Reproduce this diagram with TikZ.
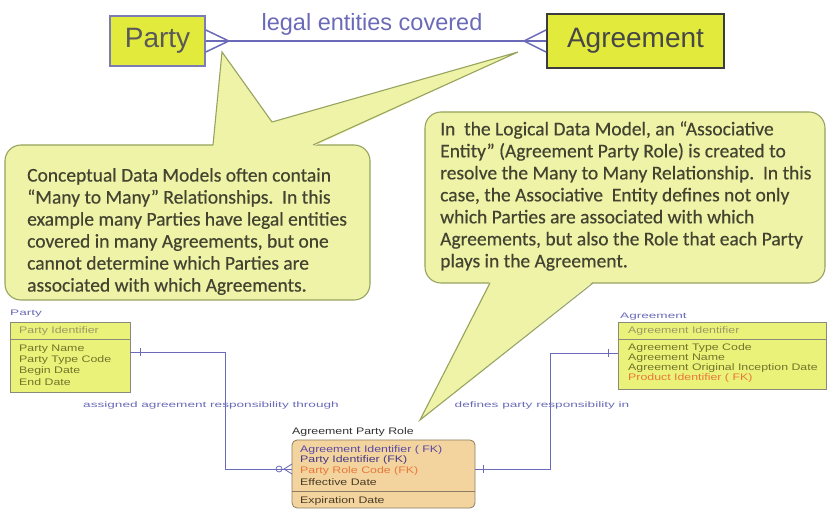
\documentclass[tikz,border=0pt]{standalone}
\usepackage{fontspec}
\setmainfont{Liberation Sans}
\newfontfamily\notefont[FakeBold=0.4]{Carlito}
\newfontfamily\erfont[FakeStretch=1.3]{Liberation Sans}
\newfontfamily\linkfont[FakeStretch=1.7]{Liberation Sans}
\definecolor{topfill}{HTML}{E2EA3C}
\definecolor{partyedge}{HTML}{7C7CB4}
\definecolor{agreeedge}{HTML}{3C3C3C}
\definecolor{relblue}{HTML}{6A6AB8}
\definecolor{notefill}{HTML}{EEF3A8}
\definecolor{noteedge}{HTML}{97A35E}
\definecolor{notetext}{HTML}{434330}
\definecolor{entfill}{HTML}{EBF27A}
\definecolor{entedge}{HTML}{8A8A7A}
\definecolor{enttext}{HTML}{74742A}
\definecolor{keytext}{HTML}{9A9A66}
\definecolor{fktext}{HTML}{E8783A}
\definecolor{rolefill}{HTML}{F3D49E}
\definecolor{roleedge}{HTML}{8C7C62}
\definecolor{purptext}{HTML}{5A4AA6}
\definecolor{darktext}{HTML}{4A3C24}
\tikzset{
  topbox/.style={draw, fill=topfill, line width=1.6pt, inner sep=0pt, font=\fontsize{28}{30}\selectfont},
  notebox/.style={draw=noteedge, fill=notefill, line width=1.1pt, rounded corners=16pt, inner sep=0pt},
  notetxt/.style={anchor=west, align=left, inner sep=0pt, text=notetext, font=\notefont\fontsize{19.5}{22}\selectfont},
  entbox/.style={draw=entedge, fill=entfill, line width=0.8pt, inner sep=0pt},
  attr/.style={anchor=west, inner sep=0pt, text=enttext, font=\erfont\fontsize{9.5}{10}\selectfont},
  erline/.style={draw=relblue, line width=0.8pt},
  linklbl/.style={inner sep=0pt, text=relblue, font=\linkfont\fontsize{8}{9}\selectfont}
}
\begin{document}
\begin{tikzpicture}[x=1pt, y=-1pt]
\useasboundingbox (0,0) rectangle (833,510);
\node[topbox, draw=partyedge, minimum width=95pt, minimum height=50pt, text=black!65] (party) at (157.5,41) {Party};
\node[topbox, draw=agreeedge, line width=2pt, minimum width=177pt, minimum height=54pt, text=black!72] (agreement) at (635.5,41) {Agreement};
\node[text=relblue, inner sep=0pt, font=\fontsize{23.5}{25}\selectfont] (rellbl) at (372,24) {legal entities covered};
\draw[erline, line width=1.5pt] (party.east) -- (agreement.west);
\draw[erline, line width=1.5pt] ([yshift=11pt]party.east) -- ([xshift=23pt]party.east) -- ([yshift=-11pt]party.east);
\draw[erline, line width=1.5pt] ([yshift=11pt]agreement.west) -- ([xshift=-22pt]agreement.west) -- ([yshift=-11pt]agreement.west);
\coordinate (partytip) at (222,52);
\coordinate (agreetip) at (518,52);
\node[notebox, minimum width=365pt, minimum height=155pt] (partynote) at (187.5,222.5) {};
\fill[notefill] (213,146.5) -- (partytip) -- (272,122) -- (agreetip) -- (313,146.5) -- cycle;
\draw[noteedge, line width=1.1pt] (213,145) -- (partytip) -- (272,122) -- (agreetip) -- (313,145);
\node[notetxt] (partytxt) at (27,231.5) {Conceptual Data Models often contain\\
“Many to Many” Relationships.\ \ In this\\
example many Parties have legal entities\\
covered in many Agreements, but one\\
cannot determine which Parties are\\
associated with which Agreements.};
\coordinate (roletip) at (420,420);
\node[notebox, minimum width=400pt, minimum height=171pt] (rolenote) at (625,197.5) {};
\fill[notefill] (490,281.5) -- (roletip) -- (593,281.5) -- cycle;
\draw[noteedge, line width=1.1pt] (490,283) -- (roletip) -- (593,283);
\node[notetxt] (roletxt) at (440,196) {In\ \ the Logical Data Model, an “Associative\\
Entity” (Agreement Party Role) is created to\\
resolve the Many to Many Relationship.\ \ In this\\
case, the Associative\ \ Entity defines not only\\
which Parties are associated with which\\
Agreements, but also the Role that each Party\\
plays in the Agreement.};
\node[linklbl, anchor=west] (partyname) at (10,314) {Party};
\node[entbox, minimum width=120pt, minimum height=70pt] (partyent) at (70,357) {};
\draw[entedge, line width=0.8pt] ([yshift=-18pt]partyent.north west) -- ([yshift=-18pt]partyent.north east);
\node[attr, text=keytext] (partykey) at (19,331) {Party Identifier};
\node[attr] (partya1) at (19,349) {Party Name};
\node[attr] (partya2) at (19,360) {Party Type Code};
\node[attr] (partya3) at (19,371) {Begin Date};
\node[attr] (partya4) at (19,382) {End Date};
\node[linklbl, anchor=west] (agreename) at (620,317) {Agreement};
\node[entbox, minimum width=208pt, minimum height=67pt] (agreeent) at (722,355.5) {};
\draw[entedge, line width=0.8pt] ([yshift=-18pt]agreeent.north west) -- ([yshift=-18pt]agreeent.north east);
\node[attr, text=keytext] (agreekey) at (628,331) {Agreement Identifier};
\node[attr] (agreea1) at (628,348) {Agreement Type Code};
\node[attr] (agreea2) at (628,358) {Agreement Name};
\node[attr] (agreea3) at (628,368) {Agreement Original Inception Date};
\node[attr, text=fktext] (agreea4) at (628,378) {Product Identifier ( FK)};
\node[inner sep=0pt, anchor=west, text=black!80, font=\erfont\fontsize{9.5}{10}\selectfont] (rolename) at (292,432) {Agreement Party Role};
\node[entbox, draw=roleedge, fill=rolefill, rounded corners=5pt, minimum width=183pt, minimum height=68pt] (roleent) at (383.5,474) {};
\draw[roleedge, line width=0.8pt] ([yshift=-52pt]roleent.north west) -- ([yshift=-52pt]roleent.north east);
\node[attr, text=purptext] (rolea1) at (300,450) {Agreement Identifier ( FK)};
\node[attr, text=purptext!80!black] (rolea2) at (300,460) {Party Identifier (FK)};
\node[attr, text=fktext] (rolea3) at (300,471) {Party Role Code (FK)};
\node[attr, text=darktext] (rolea4) at (300,482) {Effective Date};
\node[attr, text=darktext] (rolea5) at (300,501) {Expiration Date};
\coordinate (lfoot) at (225,469);
\coordinate (rfoot) at (550,469);
\draw[erline] ([yshift=5pt]partyent.east) -| (lfoot) -- ([yshift=5pt]roleent.west);
\draw[erline] ([yshift=2.5pt]agreeent.west) -| (rfoot) -- ([yshift=5pt]roleent.east);
\draw[erline] (140,348) -- (140,356);
\draw[erline] (608,349) -- (608,357);
\draw[erline] (279,469) circle (3pt);
\draw[erline] (292,464) -- (284,469) -- (292,474);
\draw[erline] (483,465) -- (483,473);
\node[linklbl] (leftlbl) at (211,405) {assigned agreement responsibility through};
\node[linklbl] (rightlbl) at (542,405) {defines party responsibility in};
\end{tikzpicture}
\end{document}
